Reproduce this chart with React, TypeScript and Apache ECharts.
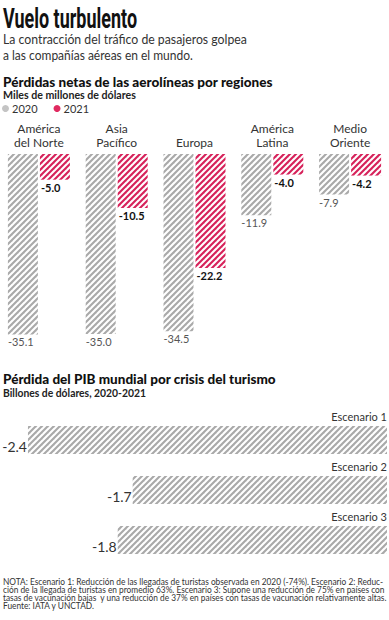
import React, { useEffect, useRef } from "react";
import * as echarts from "echarts";

const regions = ["América\ndel Norte", "Asia\nPacífico", "Europa", "América\nLatina", "Medio\nOriente"];
const seriesNames = ["2020", "2021"];
const loss2020 = [-35.1, -35.0, -34.5, -11.9, -7.9];
const loss2021 = [-5.0, -10.5, -22.2, -4.0, -4.2];
const scenarios = ["Escenario 1", "Escenario 2", "Escenario 3"];
const gdpLoss = [-2.4, -1.7, -1.8];

const title = "Vuelo turbulento";
const subtitle = ["La contracción del tráfico de pasajeros golpea", "a las compañías aéreas en el mundo."];
const chart1Title = "Pérdidas netas de las aerolíneas por regiones";
const chart1Unit = "Miles de millones de dólares";
const chart2Title = "Pérdida del PIB mundial por crisis del turismo";
const chart2Unit = "Billones de dólares, 2020-2021";
const noteLines = [
  "NOTA: Escenario 1: Reducción de las llegadas de turistas observada en 2020 (-74%). Escenario 2: Reduc-",
  "ción de la llegada de turistas en promedio 63%. Escenario 3: Supone una reducción de 75% en países con",
  "tasas de vacunación bajas  y una reducción de 37% en países con tasas de vacunación relativamente altas.",
  "Fuente: IATA y UNCTAD.",
];

const FONT = "Lato, 'Open Sans', sans-serif";

function stripes(color: string, size = 6, lw = 2.1): HTMLCanvasElement {
  const c = document.createElement("canvas");
  c.width = size;
  c.height = size;
  const ctx = c.getContext("2d")!;
  ctx.fillStyle = "#ffffff";
  ctx.fillRect(0, 0, size, size);
  ctx.strokeStyle = color;
  ctx.lineWidth = lw;
  ctx.lineCap = "square";
  for (const k of [-size, 0, size]) {
    ctx.beginPath();
    ctx.moveTo(k - 1, size + 1);
    ctx.lineTo(k + size + 1, -1);
    ctx.stroke();
  }
  return c;
}

let measureCtx: CanvasRenderingContext2D | null = null;
function measure(text: string, font: string): number {
  if (!measureCtx) measureCtx = document.createElement("canvas").getContext("2d");
  measureCtx!.font = font;
  return measureCtx!.measureText(text).width;
}

function fitted(text: string, x: number, y: number, size: number, weight: string, width: number | null, color: string, family = FONT, scaleOverride?: number) {
  const font = `${weight} ${size}px ${family}`;
  const w = measure(text, font);
  const sx = scaleOverride != null ? scaleOverride : width ? width / w : 1;
  return {
    type: "text",
    x,
    y,
    scaleX: sx,
    silent: true,
    style: { text, font, fill: color, align: "left", verticalAlign: "middle" },
  };
}

export default function App() {
  const ref = useRef<HTMLDivElement>(null);
  useEffect(() => {
    document.body.style.margin = "0";
    const chart = echarts.init(ref.current!, null, { renderer: "svg" });
    const grayPat = { image: stripes("#a9a9a9"), repeat: "repeat" };
    const redPat = { image: stripes("#d6215a"), repeat: "repeat" };

    const noteFont = `normal 9px ${FONT}`;
    const noteScale = 381 / measure(noteLines[0], noteFont);

    const graphics: any[] = [
      fitted(title, 3, 18, 28, "bold", 134, "#111", "Roboto, sans-serif"),
      fitted(subtitle[0], 3, 38.5, 14, "normal", 244, "#333"),
      fitted(subtitle[1], 3, 54.5, 14, "normal", 190, "#333"),
      fitted(chart1Title, 3, 81, 14, "900", 270, "#111"),
      fitted(chart1Unit, 3, 94, 11, "bold", 133, "#222"),
      fitted(chart2Title, 3, 378, 14, "900", 273, "#111"),
      fitted(chart2Unit, 3, 392.5, 11, "bold", 143, "#222"),
      ...noteLines.map((t, i) => fitted(t, 3, 581 + i * 8, 9, "normal", null, "#333", FONT, noteScale)),
    ];

    chart.setOption({
      animation: false,
      textStyle: { fontFamily: FONT },
      legend: {
        left: 2,
        top: 103,
        padding: 0,
        itemWidth: 7,
        itemHeight: 7,
        itemGap: 16,
        icon: "circle",
        textStyle: { fontSize: 11, color: "#333", padding: [0, 0, 0, -2] },
        data: [
          { name: seriesNames[0], itemStyle: { color: "#c4c4c4" } },
          { name: seriesNames[1], itemStyle: { color: "#e02a60" } },
        ],
        selectedMode: false,
      },
      grid: [
        { left: -6, width: 402.5, top: 154, height: 205.6 },
        { left: 13, width: 374, top: 415, height: 150 },
      ],
      xAxis: [
        {
          type: "category",
          gridIndex: 0,
          position: "top",
          data: regions,
          axisLine: { show: false },
          axisTick: { show: false },
          axisLabel: { interval: 0, fontSize: 12, lineHeight: 14, color: "#333", margin: 5, fontFamily: "'Liberation Sans Narrow', " + FONT },
        },
        {
          type: "value",
          gridIndex: 1,
          min: -2.5,
          max: 0,
          show: false,
        },
      ],
      yAxis: [
        { type: "value", gridIndex: 0, min: -40, max: 0, show: false },
        { type: "category", gridIndex: 1, data: scenarios, inverse: true, show: false },
      ],
      series: [
        {
          name: seriesNames[0],
          type: "bar",
          xAxisIndex: 0,
          yAxisIndex: 0,
          data: loss2020,
          barWidth: 30,
          barGap: "6.7%",
          itemStyle: { color: grayPat },
          label: {
            show: true,
            position: "bottom",
            distance: 2,
            align: "left",
            offset: [-15, 0],
            fontSize: 11,
            color: "#555",
            formatter: (p: any) => p.value.toFixed(1),
          },
        },
        {
          name: seriesNames[1],
          type: "bar",
          xAxisIndex: 0,
          yAxisIndex: 0,
          data: loss2021,
          barWidth: 30,
          barGap: "6.7%",
          itemStyle: { color: redPat },
          label: {
            show: true,
            position: "bottom",
            distance: 2,
            align: "left",
            offset: [-14, 0],
            fontSize: 11,
            fontWeight: "bold",
            color: "#111",
            formatter: (p: any) => p.value.toFixed(1),
          },
        },
        {
          name: "pib",
          type: "bar",
          xAxisIndex: 1,
          yAxisIndex: 1,
          data: gdpLoss,
          barWidth: 28,
          barGap: "-100%",
          itemStyle: { color: grayPat },
          label: {
            show: true,
            position: "left",
            distance: 1,
            offset: [0, 6],
            fontSize: 14,
            color: "#333",
            formatter: (p: any) => p.value.toFixed(1),
          },
        },
        {
          name: "pibNames",
          type: "bar",
          xAxisIndex: 1,
          yAxisIndex: 1,
          data: gdpLoss,
          barWidth: 28,
          barGap: "-100%",
          silent: true,
          itemStyle: { color: "rgba(0,0,0,0)" },
          label: {
            show: true,
            position: "insideTopRight",
            distance: 0,
            verticalAlign: "bottom",
            offset: [0, -4],
            fontSize: 11,
            color: "#333",
            formatter: (p: any) => p.name,
          },
        },
      ],
      graphic: graphics,
    });
    return () => chart.dispose();
  }, []);
  return <div ref={ref} style={{ width: 389, height: 620, position: "absolute", left: 0, top: 0 }} />;
}
